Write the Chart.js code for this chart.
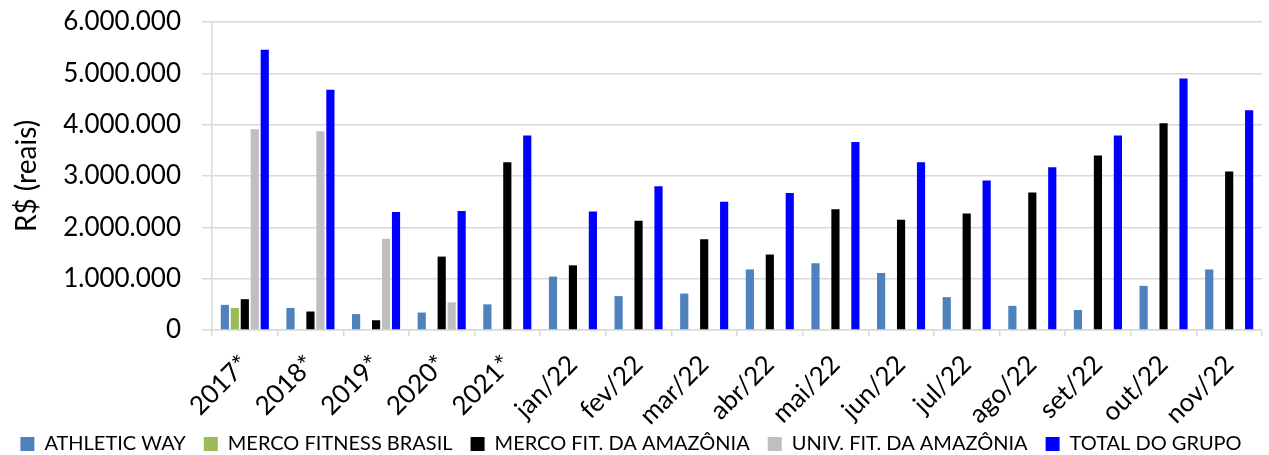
<!DOCTYPE html>
<html>
<head>
<meta charset="utf-8">
<script src="https://cdn.jsdelivr.net/npm/chart.js@4"></script>
<style>
    html, body { margin: 0; padding: 0; background: #fff; }
    #wrap { width: 1269px; height: 455px; position: relative; }
</style>
</head>
<body>
<div id="wrap"><canvas id="chart"></canvas></div>
<script>
// categorias e séries (valores em R$)
const categories = ['2017*', '2018*', '2019*', '2020*', '2021*', 'jan/22', 'fev/22', 'mar/22', 'abr/22', 'mai/22', 'jun/22', 'jul/22', 'ago/22', 'set/22', 'out/22', 'nov/22'];

const athleticWay = [490000, 430000, 310000, 340000, 500000, 1040000, 660000, 710000, 1180000, 1300000, 1110000, 640000, 470000, 390000, 860000, 1180000];
const mercoFitnessBrasil = [430000, null, null, null, null, null, null, null, null, null, null, null, null, null, null, null];
const mercoFitAmazonia = [600000, 360000, 190000, 1430000, 3270000, 1260000, 2130000, 1770000, 1470000, 2350000, 2150000, 2270000, 2680000, 3400000, 4030000, 3090000];
const univFitAmazonia = [3910000, 3870000, 1780000, 540000, null, null, null, null, null, null, null, null, null, null, null, null];
const totalGrupo = [5460000, 4680000, 2300000, 2320000, 3790000, 2310000, 2800000, 2500000, 2670000, 3660000, 3270000, 2910000, 3170000, 3790000, 4900000, 4280000];

const yTicks = [0, 1000000, 2000000, 3000000, 4000000, 5000000, 6000000];

const FONT = 'Lato, "Open Sans", sans-serif';
const GRID = '#d9d9d9';

function formatBR(v) {
    return String(v).replace(/\B(?=(\d{3})+(?!\d))/g, '.');
}

function mkSet(label, data, color) {
    return {
        label: label,
        data: data,
        backgroundColor: color,
        borderWidth: 0,
        categoryPercentage: 0.76,
        barPercentage: 0.82
    };
}

const ctx = document.getElementById('chart').getContext('2d');
new Chart(ctx, {
    type: 'bar',
    data: {
        labels: categories,
        datasets: [
            mkSet('ATHLETIC WAY', athleticWay, '#4f81bd'),
            mkSet('MERCO FITNESS BRASIL', mercoFitnessBrasil, '#9bbb59'),
            mkSet('MERCO FIT. DA AMAZÔNIA', mercoFitAmazonia, '#000000'),
            mkSet('UNIV. FIT. DA AMAZÔNIA', univFitAmazonia, '#bfbfbf'),
            mkSet('TOTAL DO GRUPO', totalGrupo, '#0000ff')
        ]
    },
    options: {
        responsive: true,
        maintainAspectRatio: false,
        animation: false,
        layout: { padding: { top: 10, right: 7, left: 0, bottom: -9 } },
        plugins: {
            legend: {
                position: 'bottom',
                labels: {
                    color: '#000',
                    font: { family: FONT, size: 20 },
                    boxWidth: 14,
                    boxHeight: 14,
                    padding: 18
                }
            },
            tooltip: { enabled: false }
        },
        scales: {
            x: {
                offset: true,
                afterFit: function (scale) {
                    scale.height = 86;
                    // os rótulos inclinados passam um pouco da caixa do eixo
                    scale._computeLabelArea = function () { return undefined; };
                },
                grid: {
                    offset: true,
                    drawOnChartArea: false,
                    drawTicks: true,
                    tickLength: 6,
                    color: GRID,
                    lineWidth: 1.5
                },
                border: { color: GRID, width: 1.5 },
                ticks: {
                    color: '#000',
                    font: { family: FONT, size: 26 },
                    maxRotation: 45,
                    minRotation: 45,
                    autoSkip: false,
                    padding: 13
                }
            },
            y: {
                min: 0,
                max: 6000000,
                afterBuildTicks: function (scale) {
                    scale.ticks = yTicks.map(v => ({ value: v }));
                },
                afterFit: function (scale) {
                    scale.width = 212;
                    scale.paddingTop = 22;
                    scale.paddingBottom = 0;
                },
                grid: {
                    color: GRID,
                    lineWidth: 1.5,
                    drawTicks: true,
                    tickLength: 10
                },
                border: { color: GRID, width: 1.5 },
                ticks: {
                    color: '#000',
                    font: { family: FONT, size: 26 },
                    padding: 21,
                    callback: v => formatBR(v)
                },
                title: {
                    display: true,
                    text: 'R$ (reais)',
                    color: '#000',
                    font: { family: FONT, size: 28 },
                    padding: { top: 10, bottom: 4 }
                }
            }
        }
    }
});
</script>
</body>
</html>
